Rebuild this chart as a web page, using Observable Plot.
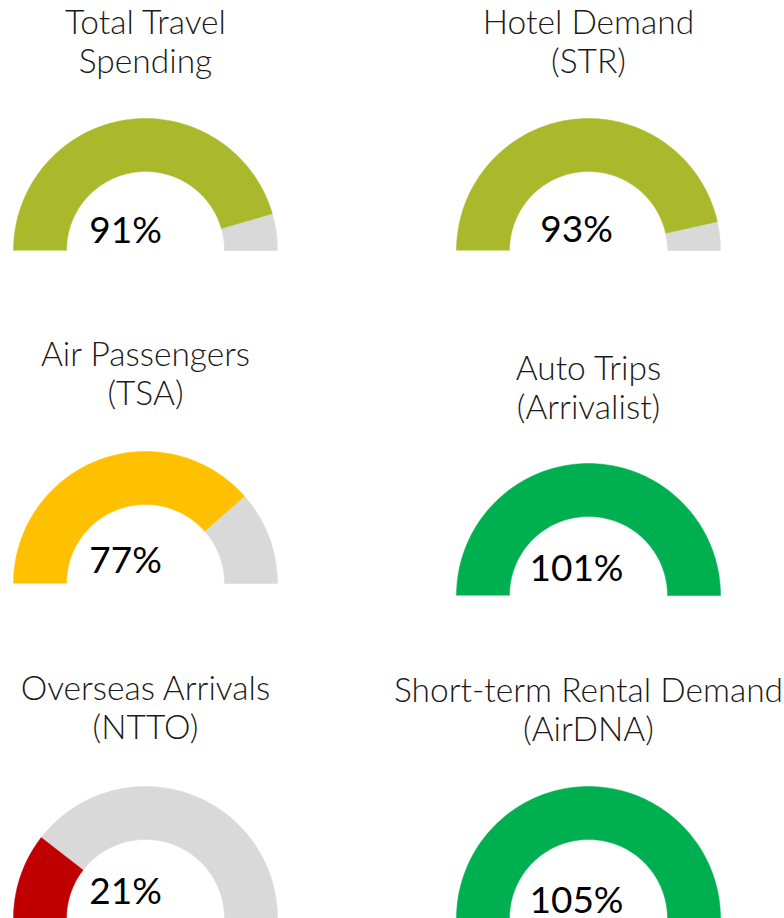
<!DOCTYPE html>
<html><head><meta charset="utf-8">
<script src="https://cdn.jsdelivr.net/npm/d3@7"></script>
<script src="https://cdn.jsdelivr.net/npm/@observablehq/plot@0.6"></script>
<style>html,body{margin:0;padding:0;background:#fff;overflow:hidden}</style>
</head><body><div id="chart"></div>
<script>
// ---- data ----
const titles = [
  "Total Travel\nSpending",
  "Hotel Demand\n(STR)",
  "Air Passengers\n(TSA)",
  "Auto Trips\n(Arrivalist)",
  "Overseas Arrivals\n(NTTO)",
  "Short-term Rental Demand\n(AirDNA)"
];
const values = [91, 93, 77, 101, 21, 105]; // % of 2019 level

// ---- layout (page positions of each gauge) ----
const W = 784, H = 918;
const R_OUT = 132, R_IN = 79;
const layout = [
  {cx: 145, cy: 250, titleY: 72,  labelX: 125, labelY: 242},
  {cx: 588, cy: 250, titleY: 72,  labelX: 576, labelY: 241},
  {cx: 145, cy: 583, titleY: 404, labelX: 125, labelY: 572},
  {cx: 588, cy: 595, titleY: 418, labelX: 576, labelY: 580},
  {cx: 145, cy: 918, titleY: 738, labelX: 125, labelY: 903},
  {cx: 588, cy: 918, titleY: 740, labelX: 576, labelY: 912}
];

// build ring-sector polygons from the values
function sector(id, i, a0, a1, value) {
  const {cx, cy} = layout[i];
  const n = Math.max(2, Math.ceil(Math.abs(a1 - a0) / Math.PI * 120));
  const pts = [];
  for (let k = 0; k <= n; k++) {
    const a = a0 + (a1 - a0) * k / n;
    pts.push({id, value, x: cx + R_OUT * Math.cos(a), y: cy - R_OUT * Math.sin(a)});
  }
  for (let k = n; k >= 0; k--) {
    const a = a0 + (a1 - a0) * k / n;
    pts.push({id, value, x: cx + R_IN * Math.cos(a), y: cy - R_IN * Math.sin(a)});
  }
  return pts;
}
const filled = [], rest = [];
values.forEach((v, i) => {
  const f = Math.min(v / 100, 1);
  const split = Math.PI * (1 - f);
  filled.push(...sector("f" + i, i, Math.PI, split, v));
  if (f < 1) rest.push(...sector("r" + i, i, split, 0, v));
});
const titleData = titles.map((t, i) => ({t, x: layout[i].cx, y: layout[i].titleY}));
const labelData = values.map((v, i) => ({t: `${v}%`, x: layout[i].labelX, y: layout[i].labelY}));

const chart = Plot.plot({
  width: W, height: H, margin: 0,
  style: {background: "#fff"},
  x: {domain: [0, W], range: [0, W], axis: null},
  y: {domain: [0, H], range: [0, H], axis: null},
  color: {type: "threshold", domain: [50, 85, 100], range: ["#C00000", "#FFC000", "#A9B92B", "#00B050"]},
  marks: [
    Plot.line(rest, {x: "x", y: "y", z: "id", fill: "#D9D9D9", stroke: "#D9D9D9", strokeWidth: 0.5, curve: "linear"}),
    Plot.line(filled, {x: "x", y: "y", z: "id", fill: "value", stroke: "value", strokeWidth: 0.5, curve: "linear"}),
    Plot.text(titleData, {x: "x", y: "y", text: "t", lineAnchor: "bottom", textAnchor: "middle",
      fontFamily: "Lato", fontWeight: 300, fontSize: 33.5, lineHeight: 1.16, fill: "#1a1a1a"}),
    Plot.text(labelData, {x: "x", y: "y", text: "t", lineAnchor: "bottom", textAnchor: "middle",
      fontFamily: "Lato", fontWeight: 400, fontSize: 37, fill: "#000"})
  ]
});
document.getElementById("chart").appendChild(chart);
</script>
</body></html>
